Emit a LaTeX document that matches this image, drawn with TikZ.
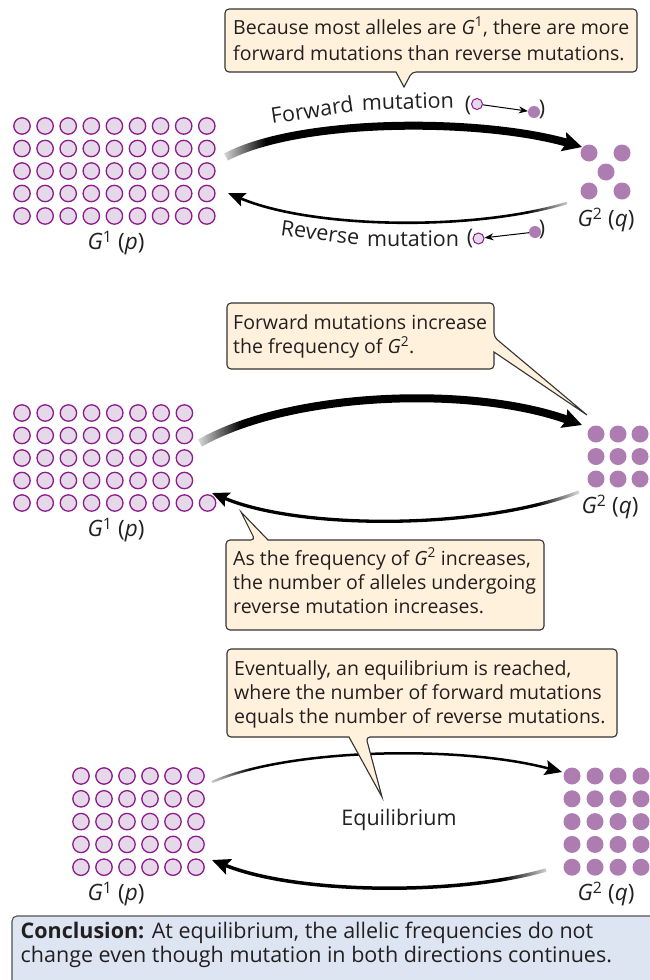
\documentclass[tikz,border=0pt]{standalone}
\usepackage{fontspec}
\setmainfont{Open Sans}
\usetikzlibrary{arrows.meta,fadings}
\definecolor{allelefill}{HTML}{E5D8E9}
\definecolor{alleleline}{HTML}{8D1C8B}
\definecolor{dotfill}{HTML}{AD7DB1}
\definecolor{calloutfill}{HTML}{FFF1DB}
\definecolor{calloutline}{HTML}{333333}
\definecolor{conclfill}{HTML}{DDE5F3}
\definecolor{inkcol}{HTML}{231F20}
\newcommand\Gsup[1]{{\itshape G}\textsuperscript{#1}}
\newcommand\txtlines[1]{\begin{tabular}[t]{@{}l@{}}#1\end{tabular}}
\newcommand\grpfont{\fontsize{22.5}{26}\selectfont}
\newcommand\arrfont{\fontsize{21.5}{26}\selectfont}
\newcommand\eqfont{\fontsize{21.5}{26}\selectfont}
\tikzfading[name=fadeR, left color=transparent!10, right color=transparent!100]
\tikzfading[name=fadeL, left color=transparent!100, right color=transparent!10]
\begin{document}
\begin{tikzpicture}[x=1pt,y=-1pt,
  allele/.style={fill=allelefill, draw=alleleline, line width=1.3pt},
  g2dot/.style={fill=dotfill},
  callout/.style={fill=calloutfill, draw=calloutline, line width=1.1pt, rounded corners=4pt},
  concl/.style={fill=conclfill, draw=calloutline!85, line width=1.1pt, rounded corners=5pt},
  calltext/.style={anchor=base west, inner sep=0pt, text=inkcol},
  grouplabel/.style={inner sep=0pt, font=\grpfont, text=inkcol},
  arrowword/.style={anchor=base west, inner sep=0pt, font=\arrfont\addfontfeatures{Kerning=Off}, text=inkcol},
  fwdA/.style={line width=8pt, -{Stealth[length=19pt,width=19pt,inset=3pt]}},
  revA/.style={line width=2.6pt, -{Stealth[length=17pt,width=14pt,inset=3pt]}},
  revB/.style={line width=3.3pt, -{Stealth[length=17pt,width=15pt,inset=3pt]}},
  fwdC/.style={line width=2.5pt, -{Stealth[length=17pt,width=15pt,inset=3pt]}},
  revC/.style={line width=3.5pt, -{Stealth[length=18pt,width=16pt,inset=3pt]}},
  smallicon/.style={circle, inner sep=0pt, minimum size=11pt},
  paren/.style={inner sep=0pt, font=\arrfont, text=inkcol}
]
\useasboundingbox (0,0) rectangle (650,980);

% ================= TOP PANEL =================
\coordinate (f1s) at (226,157);
\coordinate (f1e) at (582,147);
\draw[fwdA] (f1s) .. controls (300,118) and (480,118) .. (f1e);
\coordinate (r1s) at (567,203);
\coordinate (r1e) at (228,193);
\draw[revA] (r1s) .. controls (470,232) and (310,228) .. (r1e);
\fill[white, path fading=fadeR] (221,126) rectangle (266,168);
\fill[white, path fading=fadeL] (527,192) rectangle (572,222);

\foreach \i in {0,...,8}
  \foreach \j in {0,...,4}
    \path[allele] ({22+23.1*\i},{126+22.5*\j}) circle[radius=8.2pt];
\foreach \p in {(589,153),(622,153),(606,172),(589,191),(622,191)}
  \fill[g2dot] \p circle[radius=8.5pt];

\node[grouplabel] (g1a) at (116,243) {\Gsup{1} (\textit{p})};
\node[grouplabel] (g2a) at (606,220) {\Gsup{2} (\textit{q})};

\node[arrowword, rotate=8.7] (fw1) at (272,124) {Forward};
\node[arrowword, rotate=1.8] (fw2) at (362,110.5) {mutation};
\node[paren] (fp1) at (468,106) {(};
\node[smallicon, allele, line width=1pt] (fo) at (477,104) {};
\node[smallicon, fill=dotfill, minimum size=12pt] (ff) at (534,112) {};
\draw[line width=1pt, -{Stealth[length=9pt,width=7pt]}] (fo) -- (ff);
\node[paren] (fp2) at (542,110) {)};

\node[arrowword, rotate=-7.7] (rw1) at (280,235) {Reverse};
\node[arrowword] (rw2) at (367,246.7) {mutation};
\node[paren] (rp1) at (470,239) {(};
\node[smallicon, allele, line width=1pt] (ro) at (478.5,238.5) {};
\node[smallicon, fill=dotfill, minimum size=12pt] (rf) at (535,232) {};
\draw[line width=1pt, -{Stealth[length=9pt,width=7pt]}] (rf) -- (ro);
\node[paren] (rp2) at (542,230) {)};

\path[callout] (225,9) -- (637,9) -- (637,72) -- (412,72) [sharp corners] -- (404,87) -- (396,72) [rounded corners=4pt] -- (225,72) -- cycle;
\node[calltext, font=\fontsize{19.5}{25.7}\selectfont] (c1) at (233,34.5)
  {\txtlines{Because most alleles are \Gsup{1}, there are more\\forward mutations than reverse mutations.}};

% ================= MIDDLE PANEL =================
\coordinate (f2s) at (200,443);
\coordinate (f2e) at (582,425);
\draw[fwdA] (f2s) .. controls (290,392) and (470,385) .. (f2e);
\coordinate (r2s) at (579,492);
\coordinate (r2e) at (212,493);
\draw[revB] (r2s) .. controls (480,530) and (300,530) .. (r2e);
\fill[white, path fading=fadeR] (196,406) rectangle (241,455);
\fill[white, path fading=fadeL] (537,480) rectangle (581,512);

\foreach \j in {0,...,3}
  \foreach \i in {0,...,7}
    \path[allele] ({22+23.2*\i},{413+22.5*\j}) circle[radius=8.2pt];
\foreach \i in {0,...,8}
  \path[allele] ({22+23.2*\i},503) circle[radius=8.2pt];
\foreach \i in {0,1,2}
  \foreach \j in {0,1,2}
    \fill[g2dot] ({596+22*\i},{434+22.5*\j}) circle[radius=8.5pt];

\node[grouplabel] (g1b) at (116,530) {\Gsup{1} (\textit{p})};
\node[grouplabel] (g2b) at (610,507) {\Gsup{2} (\textit{q})};

\path[callout] (227,303) -- (494,303) -- (494,337) [sharp corners] -- (587,415) -- (494,352) [rounded corners=4pt] -- (494,369) -- (227,369) -- cycle;
\node[calltext, font=\fontsize{19.5}{24}\selectfont] (c2) at (233,329)
  {\txtlines{Forward mutations increase\\the frequency of \Gsup{2}.}};

\path[callout] (226,540) -- (255,540) [sharp corners] -- (241,512) -- (268,540) [rounded corners=4pt] -- (544,540) -- (544,630) -- (226,630) -- cycle;
\node[calltext, font=\fontsize{19.5}{24}\selectfont] (c3) at (233,565)
  {\txtlines{As the frequency of \Gsup{2} increases,\\the number of alleles undergoing\\reverse mutation increases.}};

% ================= BOTTOM PANEL =================
\coordinate (f3s) at (212,782);
\coordinate (f3e) at (562,772);
\draw[fwdC] (f3s) .. controls (290,748) and (460,745) .. (f3e);
\coordinate (r3s) at (546,870);
\coordinate (r3e) at (212,860);
\draw[revC] (r3s) .. controls (460,895) and (300,895) .. (r3e);
\fill[white, path fading=fadeR] (207,758) rectangle (252,792);
\fill[white, path fading=fadeL] (503,856) rectangle (551,886);

\foreach \i in {0,...,5}
  \foreach \j in {0,...,4}
    \path[allele] ({81+23*\i},{776+22.8*\j}) circle[radius=8.2pt];
\foreach \i in {0,...,3}
  \foreach \j in {0,...,4}
    \fill[g2dot] ({572+23*\i},{776+22.8*\j}) circle[radius=8.5pt];

\node[grouplabel] (g1c) at (116,894) {\Gsup{1} (\textit{p})};
\node[grouplabel] (g2c) at (606,894) {\Gsup{2} (\textit{q})};
\node[inner sep=0pt, font=\eqfont, text=inkcol] (eq) at (399,820) {Equilibrium};

\path[callout] (227,649) -- (617,649) -- (617,737) -- (366,737) [sharp corners] -- (382,797) -- (349,737) [rounded corners=4pt] -- (227,737) -- cycle;
\node[calltext, font=\fontsize{19.5}{24.4}\selectfont] (c4) at (234,675)
  {\txtlines{Eventually, an equilibrium is reached,\\where the number of forward mutations\\equals the number of reverse mutations.}};

% ================= CONCLUSION =================
\path[concl] (12,916) -- (665,916) -- (665,995) -- (12,995) -- cycle;
\node[calltext, font=\fontsize{21.5}{24}\selectfont] (con) at (20.5,938)
  {\txtlines{\textbf{Conclusion:} At equilibrium, the allelic frequencies do not\\change even though mutation in both directions continues.}};
\end{tikzpicture}
\end{document}
